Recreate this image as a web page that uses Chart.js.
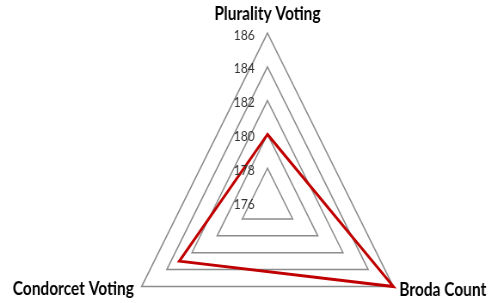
<!DOCTYPE html>
<html lang="en">
<head>
<meta charset="UTF-8">
<title>Voting methods</title>
<script src="https://cdn.jsdelivr.net/npm/chart.js"></script>
<style>
  html, body { margin: 0; padding: 0; background: #fff; overflow: hidden; }
  /* the original picture is squeezed horizontally, so the canvas is too */
  #radar { display: block; transform: scaleX(0.86); transform-origin: 0 0; }
</style>
</head>
<body>
<canvas id="radar" width="573" height="371"></canvas>
<script>
const axisLabels = ['Plurality Voting', 'Broda Count', 'Condorcet Voting'];
const scores = [180, 186, 183];
const scaleMin = 176;
const scaleMax = 186;
const scaleStep = 2;

// tick numbers and axis titles drawn by hand (chart.js skips the first tick)
const radarText = {
    id: 'radarText',
    afterDraw(chart) {
        const r = chart.scales.r;
        const ctx = chart.ctx;
        ctx.save();
        ctx.textBaseline = 'middle';

        ctx.font = '14px Lato';
        ctx.fillStyle = '#333';
        ctx.textAlign = 'center';
        r.ticks.forEach(t => {
            const y = r.yCenter - r.getDistanceFromCenterForValue(t.value);
            ctx.fillText(t.label, r.xCenter - 27, y + 2);
        });

        ctx.font = 'bold 18px Lato';
        ctx.fillStyle = '#000';
        axisLabels.forEach((name, i) => {
            const p = r.getPointPosition(i, r.drawingArea);
            if (i === 0) {
                ctx.textAlign = 'center';
                ctx.fillText(name, p.x, p.y - 19);
            } else if (i === 1) {
                ctx.textAlign = 'left';
                ctx.fillText(name, p.x + 7, p.y + 4);
            } else {
                ctx.textAlign = 'right';
                ctx.fillText(name, p.x - 9, p.y + 3);
            }
        });
        ctx.restore();
    }
};

const ctx = document.getElementById('radar').getContext('2d');
const chart = new Chart(ctx, {
    type: 'radar',
    data: {
        labels: axisLabels,
        datasets: [{
            data: scores,
            borderColor: '#c00000',
            borderWidth: 3,
            borderJoinStyle: 'miter',
            pointRadius: 0,
            fill: false
        }]
    },
    options: {
        responsive: false,
        animation: false,
        layout: {
            padding: { left: 142, right: 93, top: 33, bottom: 0 }
        },
        plugins: {
            legend: { display: false },
            tooltip: { enabled: false }
        },
        scales: {
            r: {
                min: scaleMin,
                max: scaleMax,
                ticks: { stepSize: scaleStep, display: false },
                grid: { circular: false, color: '#8c8c8c', lineWidth: 1.5 },
                angleLines: { display: false },
                pointLabels: { display: false }
            }
        }
    },
    plugins: [radarText]
});
</script>
</body>
</html>
